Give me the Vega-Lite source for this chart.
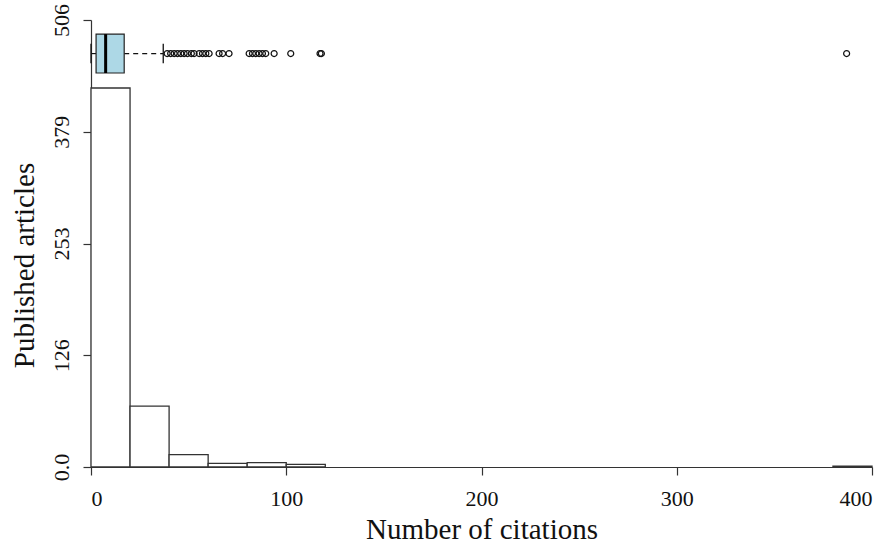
{
  "$schema": "https://vega.github.io/schema/vega-lite/v6.json",
  "width": 781,
  "height": 447,
  "autosize": {"type": "none"},
  "padding": {"left": 91, "top": 20, "right": 18, "bottom": 79},
  "background": "white",
  "config": {
    "view": {"stroke": null},
    "font": "Liberation Serif",
    "axis": {
      "grid": false,
      "domainColor": "#333",
      "tickColor": "#333",
      "domainWidth": 1.2,
      "tickWidth": 1.2,
      "tickSize": 8,
      "labelColor": "#111",
      "titleColor": "#111",
      "labelFont": "Liberation Serif",
      "titleFont": "Liberation Serif",
      "labelFontSize": 22,
      "titleFontSize": 29,
      "titleFontWeight": "normal"
    }
  },
  "datasets": {
    "bins": [
      {"bin_start": 0, "bin_end": 20, "count": 429},
      {"bin_start": 20, "bin_end": 40, "count": 69},
      {"bin_start": 40, "bin_end": 60, "count": 14},
      {"bin_start": 60, "bin_end": 80, "count": 4},
      {"bin_start": 80, "bin_end": 100, "count": 5},
      {"bin_start": 100, "bin_end": 120, "count": 3},
      {"bin_start": 380, "bin_end": 400, "count": 1}
    ],
    "box": [{"lower": 0, "q1": 2.6, "median": 7.5, "q3": 17, "upper": 37}],
    "outliers": [
      {"citations": 39}, {"citations": 40.8}, {"citations": 42.6}, {"citations": 44.3},
      {"citations": 46}, {"citations": 47.7}, {"citations": 49.4}, {"citations": 51.4},
      {"citations": 52.8}, {"citations": 55.4}, {"citations": 57.1}, {"citations": 58.8},
      {"citations": 60.5}, {"citations": 65.6}, {"citations": 67.4}, {"citations": 70.7},
      {"citations": 81}, {"citations": 82.7}, {"citations": 84.4}, {"citations": 86.1},
      {"citations": 87.8}, {"citations": 89.5}, {"citations": 93.8}, {"citations": 102.3},
      {"citations": 117.3}, {"citations": 118}, {"citations": 387}
    ]
  },
  "layer": [
    {
      "data": {"name": "bins"},
      "mark": {"type": "rect", "fill": "white", "stroke": "#333", "strokeWidth": 1.3},
      "encoding": {
        "x": {
          "field": "bin_start", "type": "quantitative",
          "title": "Number of citations",
          "scale": {"domain": [0, 400], "nice": false, "zero": true},
          "axis": {"values": [0, 100, 200, 300, 400], "labelPadding": 13, "format": "d", "titleY": 71, "titleBaseline": "alphabetic"}
        },
        "x2": {"field": "bin_end"},
        "y": {
          "field": "count", "type": "quantitative",
          "title": "Published articles",
          "scale": {"domain": [0, 506], "nice": false, "zero": true},
          "axis": {
            "values": [0, 126.5, 253, 379.5, 506],
            "labelExpr": "datum.value == 0 ? '0.0' : format(floor(datum.value), 'd')",
            "labelAngle": -90,
            "labelAlign": "center",
            "labelBaseline": "bottom",
            "labelPadding": 10,
            "titleX": -58,
            "titleY": 245,
            "titleAngle": -90,
            "titleAlign": "center",
            "titleBaseline": "alphabetic"
          }
        },
        "y2": {"datum": 0}
      }
    },
    {
      "data": {"name": "box"},
      "mark": {"type": "rule", "stroke": "#111", "strokeWidth": 1.2, "strokeDash": [5, 4]},
      "encoding": {
        "x": {"field": "q3", "type": "quantitative", "title": "Number of citations"},
        "x2": {"field": "upper"},
        "y": {"datum": 468, "type": "quantitative", "title": "Published articles"}
      }
    },
    {
      "data": {"name": "box"},
      "mark": {"type": "rule", "stroke": "#111", "strokeWidth": 1.2, "strokeDash": [5, 4]},
      "encoding": {
        "x": {"field": "lower", "type": "quantitative", "title": "Number of citations"},
        "x2": {"field": "q1"},
        "y": {"datum": 468, "type": "quantitative", "title": "Published articles"}
      }
    },
    {
      "data": {"name": "box"},
      "mark": {"type": "rule", "stroke": "#111", "strokeWidth": 1.3},
      "encoding": {
        "x": {"field": "upper", "type": "quantitative", "title": "Number of citations"},
        "y": {"datum": 457, "type": "quantitative", "title": "Published articles"},
        "y2": {"datum": 479}
      }
    },
    {
      "data": {"name": "box"},
      "mark": {"type": "rule", "stroke": "#111", "strokeWidth": 1.3},
      "encoding": {
        "x": {"field": "lower", "type": "quantitative", "title": "Number of citations"},
        "y": {"datum": 457, "type": "quantitative", "title": "Published articles"},
        "y2": {"datum": 479}
      }
    },
    {
      "data": {"name": "box"},
      "mark": {"type": "rect", "fill": "#ADD8E6", "stroke": "#222", "strokeWidth": 1.2},
      "encoding": {
        "x": {"field": "q1", "type": "quantitative", "title": "Number of citations"},
        "x2": {"field": "q3"},
        "y": {"datum": 446, "type": "quantitative", "title": "Published articles"},
        "y2": {"datum": 490}
      }
    },
    {
      "data": {"name": "box"},
      "mark": {"type": "rule", "stroke": "#000", "strokeWidth": 3},
      "encoding": {
        "x": {"field": "median", "type": "quantitative", "title": "Number of citations"},
        "y": {"datum": 446, "type": "quantitative", "title": "Published articles"},
        "y2": {"datum": 490}
      }
    },
    {
      "data": {"name": "outliers"},
      "mark": {"type": "point", "shape": "circle", "filled": false, "stroke": "#111", "strokeWidth": 1.2, "size": 36, "opacity": 1},
      "encoding": {
        "x": {"field": "citations", "type": "quantitative", "title": "Number of citations"},
        "y": {"datum": 468, "type": "quantitative", "title": "Published articles"}
      }
    }
  ]
}
